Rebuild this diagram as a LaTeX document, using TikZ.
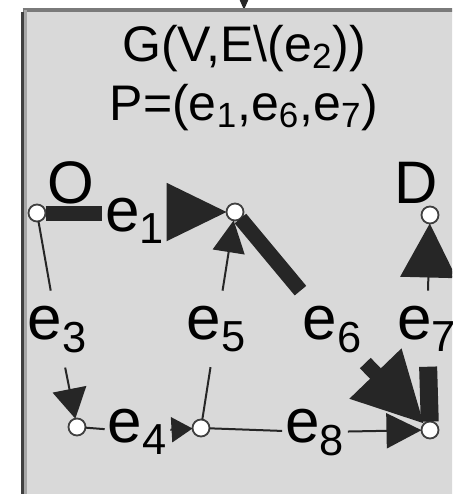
\documentclass[tikz,border=0pt]{standalone}
\usepackage{fontspec}
\setmainfont{Liberation Sans}
\usetikzlibrary{arrows.meta,positioning}
\definecolor{boxgray}{HTML}{D9D9D9}
\definecolor{rimgray}{HTML}{7A7A7A}
\definecolor{rimdark}{HTML}{404040}

\begin{document}
\begin{tikzpicture}[x=0.5pt,y=-0.5pt,line width=1pt,draw=black!85,
  frame/.style={fill=boxgray,draw=none,anchor=north west,minimum width=221.5pt,minimum height=250pt,inner sep=0pt,outer sep=0pt},
  vertex/.style={circle,draw=black!75,line width=0.9pt,fill=white,minimum size=8.5pt,inner sep=0pt,outer sep=0pt},
  elab/.style={anchor=base,inner xsep=1pt,inner ysep=7pt,font=\fontsize{31}{31}\selectfont},
  vlab/.style={anchor=base,inner sep=0pt,font=\fontsize{30}{30}\selectfont},
  title/.style={anchor=base,inner sep=0pt,font=\fontsize{25}{29.5}\selectfont},
  flow/.style={line width=7.5pt}]
\useasboundingbox (0,0) rectangle (452,494);
\clip (0,0) rectangle (452,494);
\node[frame] (frame) at (22.5,10) {};
\coordinate (feed) at (244,-20);
\draw[-{Triangle[length=5pt,width=4pt]}] (feed) -- (frame.north);
\draw[rimgray,line width=2pt] (frame.north west) -- (frame.north east);
\draw[black!35,line width=1.5pt] ([xshift=1.5pt]frame.north west) -- ([xshift=1.5pt]frame.south west);
\draw[rimdark,line width=1.5pt] ([yshift=-1pt]frame.north west) -- (frame.south west);

\node[title] (graph) at (244,61) {G(V,E\textbackslash(e\textsubscript{2}))};
\node[title] (path) at (244,120) {P=(e\textsubscript{1},e\textsubscript{6},e\textsubscript{7})};

\foreach \n/\x/\y in {O/37/213,A/235/212,D/430/215,B/77/427,C/201/428,T/430/430}
  \node[vertex] (\n) at (\x,\y) {};
\node[vlab] (Olab) at (71,203) {O};
\node[vlab] (Dlab) at (416,203) {D};
\foreach \k/\x/\y in {1/135/231,3/57.5/339,4/137.5/442,5/216.5/339,6/332.5/339,7/427/339,8/315/442}
  \node[elab] (e\k) at (\x,\y) {e\textsubscript{\k}};

\draw[flow] (O) -- (e1.west |- O);
\draw[-{Triangle[length=30pt,width=29pt]}] (e1.east |- A) -- (A);
\draw (O) -- (e3);
\draw[-{Triangle[length=15pt,width=17pt]}] (e3) -- (B);
\draw (B) -- (e4);
\draw[-{Triangle[length=10.5pt,width=12.5pt]}] (e4) -- (C);
\draw (C) -- (e5);
\draw[-{Triangle[length=16pt,width=16pt]}] (e5) -- (A);
\draw[flow] (A) -- (e6);
\draw[flow,-{Triangle[length=35pt,width=34pt]}] (e6) -- (T);
\draw[flow,line width=9pt] (T) -- (e7);
\draw[-{Triangle[length=27pt,width=28pt]}] (e7) -- (D);
\draw (C) -- (e8);
\draw[-{Triangle[length=17.5pt,width=17.5pt]}] (e8) -- (T);
\end{tikzpicture}
\end{document}
